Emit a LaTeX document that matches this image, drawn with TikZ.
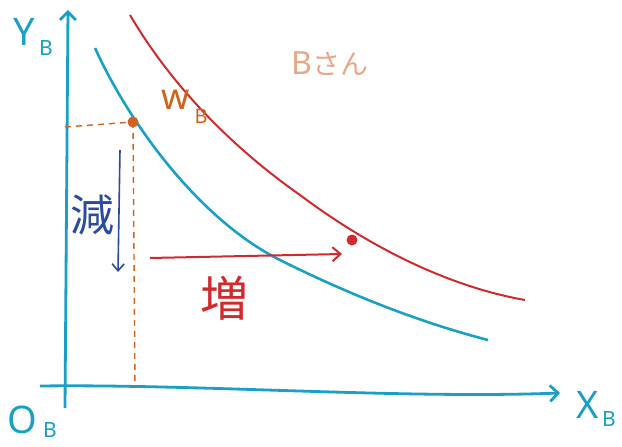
\documentclass[tikz,border=0pt]{standalone}
\usepackage{fontspec}
\setmainfont{Noto Sans}
\newfontfamily\cjk{Noto Sans CJK JP}
\usetikzlibrary{arrows.meta}
\definecolor{axc}{HTML}{1A9FC6}
\definecolor{redc}{HTML}{D02A2E}
\definecolor{orc}{HTML}{D0641E}
\definecolor{dbl}{HTML}{2A4BA0}
\definecolor{salm}{HTML}{E9A688}
\tikzset{
  axis/.style={axc, line width=2.8pt, -{Straight Barb[length=8pt,width=16pt,line width=2.8pt]}},
  curveb/.style={axc, line width=2.6pt},
  curver/.style={redc, line width=2pt},
  guide/.style={orc, line width=1.4pt, dash pattern=on 6pt off 5pt},
  arrowd/.style={dbl, line width=1.6pt, -{Straight Barb[length=7pt,width=12pt]}},
  arrowr/.style={redc, line width=2pt, -{Straight Barb[length=8pt,width=14pt]}},
  lab/.style={axc, font=\fontsize{38}{38}\selectfont, inner sep=0pt},
  sub/.style={axc, font=\fontsize{21}{21}\selectfont, inner sep=0pt},
  pt/.style={circle, inner sep=0pt, minimum size=11pt}
}
\begin{document}
\begin{tikzpicture}[x=1pt,y=-1pt]
\useasboundingbox (0,0) rectangle (622,447);
% axes
\coordinate (ob) at (65,408);
\coordinate (ytop) at (68,10);
\coordinate (xl) at (40,386);
\coordinate (xr) at (560,393);
\draw[axis] (ob) -- (ytop);
\draw[axis] (xl) .. controls (200,384) and (400,399) .. (xr);
\node[lab] (yl) at (24,32) {Y};
\node[sub] (ylb) at (46,48) {B};
\node[lab] (xlab) at (588,405) {X};
\node[sub] (xlb) at (609,419) {B};
\node[lab] (olab) at (22,420) {O};
\node[sub] (olb) at (50,430) {B};
% curves
\draw[curveb] (95,48) .. controls (130,125) and (200,220) .. (280,260)
  .. controls (360,300) and (430,325) .. (488,340);
\draw[curver] (130,15) .. controls (180,100) and (250,160) .. (300,195)
  .. controls (360,240) and (440,285) .. (525,300);
% points
\node[pt, fill=orc] (wb) at (133,122) {};
\node[pt, fill=redc] (wr) at (352,240) {};
\node[orc, font=\fontsize{36}{36}\selectfont, inner sep=0pt] (wbl) at (176,100) {w};
\node[orc, font=\fontsize{20}{20}\selectfont, inner sep=0pt] (wbs) at (201,116) {B};
% guides
\coordinate (yg) at (65,127);
\coordinate (xg) at (135,388);
\draw[guide] (yg) -- (wb.center);
\draw[guide] (wb.center) -- (xg);
% arrows
\coordinate (da) at (120,150);
\coordinate (db) at (118,272);
\draw[arrowd] (da) -- (db);
\node[dbl, font=\cjk\fontsize{44}{44}\selectfont] (gen) at (92,215) {減};
\coordinate (ra) at (150,258);
\coordinate (rb) at (342,254);
\draw[arrowr] (ra) -- (rb);
\node[redc, font=\cjk\fontsize{48}{48}\selectfont] (zo) at (224,298) {増};
\node[salm, font=\fontsize{32}{32}\selectfont] (bs) at (330,64) {B{\cjk\fontsize{28}{28}\selectfont さん}};
\end{tikzpicture}
\end{document}
